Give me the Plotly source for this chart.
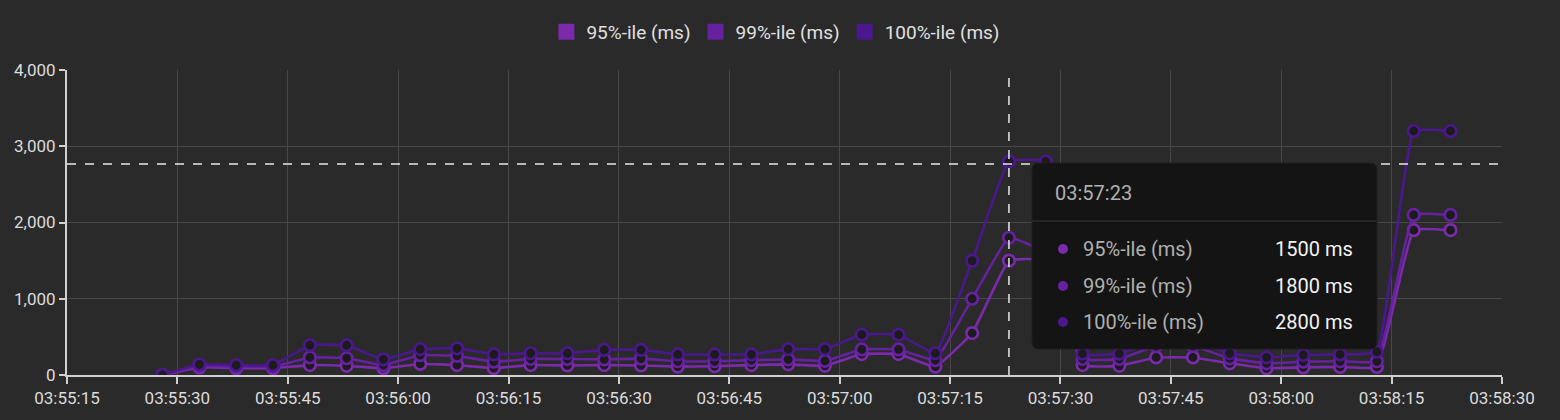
import plotly.graph_objects as go

# ---------------- data ----------------
times = [
    "03:55:28", "03:55:33", "03:55:38", "03:55:43", "03:55:48", "03:55:53", "03:55:58",
    "03:56:03", "03:56:08", "03:56:13", "03:56:18", "03:56:23", "03:56:28", "03:56:33",
    "03:56:38", "03:56:43", "03:56:48", "03:56:53", "03:56:58", "03:57:03", "03:57:08",
    "03:57:13", "03:57:18", "03:57:23", "03:57:28", "03:57:33", "03:57:38", "03:57:43",
    "03:57:48", "03:57:53", "03:57:58", "03:58:03", "03:58:08", "03:58:13", "03:58:18",
    "03:58:23",
]
p95 = [0, 100, 90, 90, 130, 120, 90, 145, 130, 90, 130, 125, 130, 125, 110, 115, 130, 140,
       120, 275, 275, 110, 550, 1500, 1500, 130, 120, 230, 230, 153, 88, 100, 105, 105,
       1900, 1900]
p99 = [0, 120, 110, 110, 230, 220, 130, 260, 250, 175, 210, 210, 205, 215, 180, 180, 195,
       205, 185, 335, 335, 195, 1000, 1800, 1600, 210, 210, 380, 380, 218, 153, 175, 180,
       180, 2100, 2100]
p100 = [0, 140, 130, 130, 390, 390, 205, 340, 350, 270, 285, 285, 330, 330, 270, 270, 270,
        340, 340, 530, 530, 285, 1500, 2800, 2800, 280, 280, 450, 450, 285, 232, 262, 270,
        305, 3200, 3200]

series_names = ["95%-ile (ms)", "99%-ile (ms)", "100%-ile (ms)"]
series_colors = ["#7a2aab", "#6621a0", "#4a188c"]
y_ticks = [0, 1000, 2000, 3000, 4000]
x_ticks = ["03:55:15", "03:55:30", "03:55:45", "03:56:00", "03:56:15", "03:56:30",
           "03:56:45", "03:57:00", "03:57:15", "03:57:30", "03:57:45", "03:58:00",
           "03:58:15", "03:58:30"]

hover_time = "03:57:23"
hover_y = 2767

DAY = "2024-01-01 "
xs = [DAY + t for t in times]
series_values = [p95, p99, p100]

BG = "#2a2a2a"
FONT = "Roboto"

fig = go.Figure()

for name, color, vals in zip(series_names, series_colors, series_values):
    fig.add_trace(go.Scatter(
        x=xs, y=vals, name=name, mode="lines+markers",
        line=dict(color=color, width=2.6, shape="spline", smoothing=0.3),
        marker=dict(symbol="circle", size=11.5, color="#1b1b1b",
                    line=dict(color=color, width=2.7)),
        showlegend=False, hoverinfo="skip",
    ))

# legend entries with square swatches
for name, color in zip(series_names, series_colors):
    fig.add_trace(go.Scatter(
        x=[None], y=[None], name=name, mode="markers",
        marker=dict(symbol="square", size=16, color=color),
        showlegend=True, hoverinfo="skip",
    ))

# ------------- layout geometry (pixels -> paper) -------------
W, H = 1560, 420
L, R, T, B = 67, 58, 70, 45
PW = W - L - R
PH = H - T - B


def px(xp):
    return (xp - L) / PW


def py(yp):
    return (H - B - yp) / PH


shapes = []
# crosshair
shapes.append(dict(type="line", xref="x", yref="paper", x0=DAY + hover_time,
                   x1=DAY + hover_time, y0=0, y1=1,
                   line=dict(color="#e8e8e8", width=1.5, dash="dash"), layer="above"))
shapes.append(dict(type="line", xref="paper", yref="y", x0=0, x1=1, y0=hover_y,
                   y1=hover_y, line=dict(color="#e8e8e8", width=1.5, dash="dash"),
                   layer="above"))

# tooltip box (rounded)
x0, x1, y0, y1 = px(1032), px(1377), py(163), py(349)
rx, ry = 7 / PW, 7 / PH
path = (f"M {x0+rx},{y0} L {x1-rx},{y0} Q {x1},{y0} {x1},{y0-ry} "
        f"L {x1},{y1+ry} Q {x1},{y1} {x1-rx},{y1} L {x0+rx},{y1} "
        f"Q {x0},{y1} {x0},{y1+ry} L {x0},{y0-ry} Q {x0},{y0} {x0+rx},{y0} Z")
shapes.append(dict(type="path", xref="paper", yref="paper", path=path,
                   fillcolor="#141414", line=dict(color="#1e1e1e", width=1),
                   layer="above"))
shapes.append(dict(type="line", xref="paper", yref="paper", x0=x0, x1=x1,
                   y0=py(221), y1=py(221), line=dict(color="#2c2c2c", width=1.5),
                   layer="above"))

annotations = [
    dict(xref="paper", yref="paper", x=px(1053), y=py(193), text=hover_time,
         showarrow=False, xanchor="left", yanchor="middle",
         font=dict(family=FONT, size=20, color="#b0b0b0")),
]

idx = times.index(hover_time)
row_y = [249, 286, 322]
for ry_px, name, color, vals in zip(row_y, series_names, series_colors, series_values):
    shapes.append(dict(type="circle", xref="paper", yref="paper",
                       x0=px(1058), x1=px(1068), y0=py(ry_px - 5), y1=py(ry_px + 5),
                       fillcolor=color, line=dict(width=0), layer="above"))
    annotations.append(dict(xref="paper", yref="paper", x=px(1081), y=py(ry_px),
                            text=name, showarrow=False, xanchor="left",
                            yanchor="middle",
                            font=dict(family=FONT, size=20, color="#b0b0b0")))
    annotations.append(dict(xref="paper", yref="paper", x=px(1355), y=py(ry_px),
                            text=f"{vals[idx]} ms", showarrow=False, xanchor="right",
                            yanchor="middle",
                            font=dict(family=FONT, size=20, color="#f2f2f2")))

fig.update_layout(
    width=W, height=H,
    margin=dict(l=L, r=R, t=T, b=B, pad=0),
    paper_bgcolor=BG, plot_bgcolor=BG,
    font=dict(family=FONT, size=16, color="#dcdcdc"),
    showlegend=True,
    legend=dict(orientation="h", x=0.494, xanchor="center", y=py(32), yanchor="middle",
                font=dict(family=FONT, size=19, color="#e0e0e0"),
                bgcolor="rgba(0,0,0,0)", itemsizing="trace", tracegroupgap=0),
    hovermode=False,
    shapes=shapes,
    annotations=annotations,
    xaxis=dict(
        type="date",
        range=[DAY + x_ticks[0], DAY + x_ticks[-1]],
        tickvals=[DAY + t for t in x_ticks],
        ticktext=x_ticks,
        showgrid=True, gridcolor="#474747", gridwidth=1,
        showline=True, linecolor="#d0d0d0", linewidth=2,
        ticks="outside", ticklen=7, tickwidth=2, tickcolor="#d0d0d0",
        tickfont=dict(family=FONT, size=17, color="#dcdcdc"),
        zeroline=False,
    ),
    yaxis=dict(
        range=[0, 4000],
        tickvals=y_ticks,
        ticktext=[f"{v:,}" for v in y_ticks],
        showgrid=True, gridcolor="#474747", gridwidth=1,
        showline=True, linecolor="#d0d0d0", linewidth=2,
        ticks="outside", ticklen=6, tickwidth=2, tickcolor="#d0d0d0",
        tickfont=dict(family=FONT, size=17, color="#dcdcdc"),
        zeroline=False,
    ),
)

fig.write_html(
    "out.html",
    config={"displayModeBar": False},
    post_script="document.body.style.margin='0';document.body.style.background='#2a2a2a';",
)
